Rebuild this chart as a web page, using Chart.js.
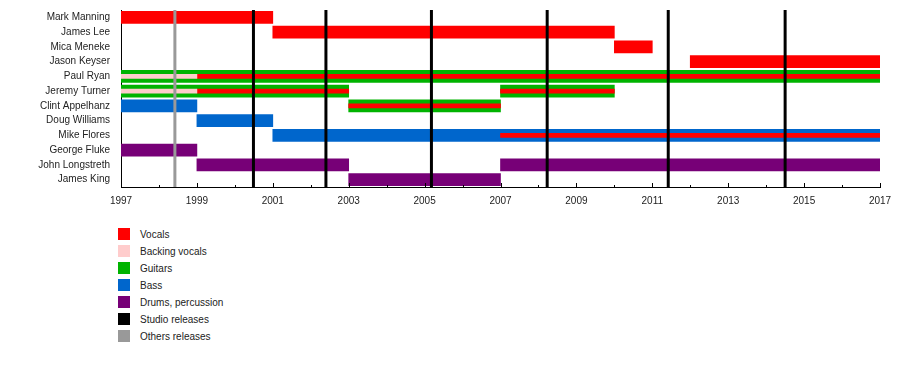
<!DOCTYPE html>
<html>
<head>
<meta charset="utf-8">
<script src="https://cdn.jsdelivr.net/npm/chart.js@4/dist/chart.umd.min.js"></script>
<style>
  html, body { margin: 0; padding: 0; background: #fff; }
  #wrap { position: relative; width: 900px; height: 366px; font-family: "Liberation Sans", Arial, sans-serif; }
  #chartBox { position: absolute; left: 0; top: 0; width: 900px; height: 210px; }
  .lg { position: absolute; left: 118px; height: 12px; }
  .sw { position: absolute; left: 0; top: 0; width: 12px; height: 12px; }
  .lt { position: absolute; left: 22px; top: 0px; font-size: 10px; line-height: 14px; color: #222; white-space: nowrap; }
</style>
</head>
<body>
<div id="wrap">
  <div id="chartBox"><canvas id="c" width="900" height="210"></canvas></div>
  <div id="legend"></div>
</div>
<script>
// ---- data ----
const members = ["Mark Manning","James Lee","Mica Meneke","Jason Keyser","Paul Ryan","Jeremy Turner",
  "Clint Appelhanz","Doug Williams","Mike Flores","George Fluke","John Longstreth","James King"];

// [member, start, end]
const vocals = [["Mark Manning",1997,2001],["James Lee",2001,2010],["Mica Meneke",2010,2011],["Jason Keyser",2012,2017]];
const vocalsSecondary = [["Paul Ryan",1999,2017],["Jeremy Turner",1999,2003],["Jeremy Turner",2007,2010],
  ["Clint Appelhanz",2003,2007],["Mike Flores",2007,2017]];
const backingVocals = [["Paul Ryan",1997,1999],["Jeremy Turner",1997,1999]];
const guitars = [["Paul Ryan",1997,2017],["Jeremy Turner",1997,2003],["Jeremy Turner",2007,2010],["Clint Appelhanz",2003,2007]];
const bass = [["Clint Appelhanz",1997,1999],["Doug Williams",1999,2001],["Mike Flores",2001,2017]];
const drums = [["George Fluke",1997,1999],["John Longstreth",1999,2003],["John Longstreth",2007,2017],["James King",2003,2007]];

const studioReleases = [2000.49, 2002.40, 2005.18, 2008.23, 2011.42, 2014.50];
const otherReleases = [1998.42];

const xMin = 1997, xMax = 2017;
const legendLabels = ["Vocals","Backing vocals","Guitars","Bass","Drums, percussion","Studio releases","Others releases"];

// ---- styles ----
const COL = {
  vocals: "#ff0000", backing: "#ffcccc", guitars: "#00b300", bass: "#0066cc",
  drums: "#770077", studio: "#000000", other: "#999999"
};
const legendColors = [COL.vocals, COL.backing, COL.guitars, COL.bass, COL.drums, COL.studio, COL.other];

function toPoints(list) { return list.map(([m, s, e]) => ({ x: [s, e], y: m })); }
function ds(list, color, thick, order) {
  return { data: toPoints(list), backgroundColor: color, barThickness: thick, order: order,
           grouped: false, borderWidth: 0, borderSkipped: false };
}

const releasePlugin = {
  id: "releases",
  afterDatasetsDraw(chart) {
    const { ctx, chartArea, scales } = chart;
    ctx.save();
    ctx.lineWidth = 3;
    const draw = (vals, color) => {
      ctx.strokeStyle = color;
      vals.forEach(v => {
        const x = scales.x.getPixelForValue(v);
        ctx.beginPath();
        ctx.moveTo(x, chartArea.top);
        ctx.lineTo(x, chartArea.bottom);
        ctx.stroke();
      });
    };
    draw(otherReleases, COL.other);
    draw(studioReleases, COL.studio);
    ctx.restore();
  }
};

// inward year ticks on the x axis (major every two years, minor every year)
const innerTicksPlugin = {
  id: "innerTicks",
  afterDraw(chart) {
    const { ctx, chartArea, scales } = chart;
    ctx.save();
    ctx.strokeStyle = "#000";
    ctx.lineWidth = 1;
    scales.x.ticks.forEach(t => {
      const x = Math.round(scales.x.getPixelForValue(t.value)) + 0.5;
      const len = (t.value - xMin) % 2 === 0 ? 4 : 2;
      ctx.beginPath();
      ctx.moveTo(x, chartArea.bottom);
      ctx.lineTo(x, chartArea.bottom - len);
      ctx.stroke();
    });
    ctx.restore();
  }
};

new Chart(document.getElementById("c"), {
  type: "bar",
  data: {
    labels: members,
    datasets: [
      ds(vocals, COL.vocals, 12, 2),
      ds(guitars, COL.guitars, 12, 2),
      ds(bass, COL.bass, 12, 2),
      ds(drums, COL.drums, 12, 2),
      ds(backingVocals, COL.backing, 4, 1),
      ds(vocalsSecondary, COL.vocals, 4, 1)
    ]
  },
  options: {
    indexAxis: "y",
    responsive: false,
    animation: false,
    devicePixelRatio: 1,
    layout: { padding: { top: 10, right: 20, left: 0, bottom: 0 } },
    plugins: { legend: { display: false }, tooltip: { enabled: false } },
    scales: {
      x: {
        type: "linear", min: xMin, max: xMax, stacked: false,
        afterFit(s) { s.height = 23; },
        grid: { display: true, drawOnChartArea: false, drawTicks: false, color: "#000" },
        border: { display: true, color: "#000", width: 1 },
        ticks: {
          stepSize: 1, autoSkip: false, maxRotation: 0, padding: 8,
          color: "#222", font: { family: "Liberation Sans", size: 10 },
          callback: (v) => ((v - xMin) % 2 === 0 ? String(v) : "")
        }
      },
      y: {
        type: "category", stacked: false, offset: true,
        afterFit(s) { s.width = 121; },
        grid: { display: true, drawOnChartArea: false, drawTicks: true, tickLength: 7, color: "rgba(0,0,0,0)" },
        border: { display: true, color: "#000", width: 1 },
        ticks: { autoSkip: false, padding: 4, color: "#222", font: { family: "Liberation Sans", size: 10 } }
      }
    }
  },
  plugins: [releasePlugin, innerTicksPlugin]
});

// ---- legend ----
const lg = document.getElementById("legend");
legendLabels.forEach((t, i) => {
  const d = document.createElement("div");
  d.className = "lg";
  d.style.top = (228 + i * 17) + "px";
  d.innerHTML = '<div class="sw" style="background:' + legendColors[i] + '"></div><div class="lt"></div>';
  d.querySelector(".lt").textContent = t;
  lg.appendChild(d);
});
</script>
</body>
</html>
